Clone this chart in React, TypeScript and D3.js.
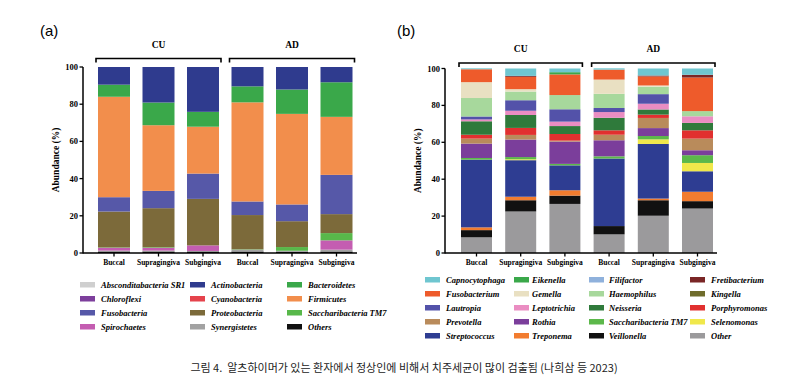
import * as d3 from 'd3';

// sample order: CU Buccal, CU Supragingiva, CU Subgingiva, AD Buccal, AD Supragingiva, AD Subgingiva
const sites = ['Buccal', 'Supragingiva', 'Subgingiva'];
const groups = ['CU', 'AD'];
const yTicks = [0, 20, 40, 60, 80, 100];

// panel (a) phyla, listed top of bar -> bottom (alphabetical)
const phylumNames = [
  'Absconditabacteria SR1', 'Actinobacteria', 'Bacteroidetes', 'Chloroflexi',
  'Cyanobacteria', 'Firmicutes', 'Fusobacteria', 'Proteobacteria',
  'Saccharibacteria TM7', 'Spirochaetes', 'Synergistetes', 'Others',
];
const phylumColors = [
  '#cfcfcf', '#2f3b8e', '#3aa84a', '#7d3f9c', '#e5434c', '#f28e4c',
  '#5658a8', '#7c6a3a', '#58b84a', '#c45db1', '#a2a2a2', '#111111',
];
const absconditabacteria = [0, 0, 0, 0, 0, 0];
const actinobacteria = [9.5, 19.1, 24.1, 10.4, 12.1, 8.2];
const bacteroidetes = [6.5, 12.2, 8, 8.6, 13.1, 18.6];
const chloroflexi = [0, 0, 0, 0, 0, 0];
const cyanobacteria = [0, 0, 0, 0, 0, 0];
const firmicutes = [54, 35.3, 25.2, 53.3, 48.7, 31.2];
const fusobacteria = [7.7, 9.3, 13.6, 7.3, 9, 21.1];
const proteobacteria = [19.3, 21, 25, 18.4, 13.9, 10.2];
const saccharibacteriaA = [0.2, 0.3, 0, 0.2, 2, 3.9];
const spirochaetes = [1.5, 1.5, 3, 0, 0, 5];
const synergistetes = [0.5, 0.5, 0.3, 1, 0.5, 1];
const othersA = [0.8, 0.8, 0.8, 0.8, 0.7, 0.8];
const phylumValues = [
  absconditabacteria, actinobacteria, bacteroidetes, chloroflexi, cyanobacteria,
  firmicutes, fusobacteria, proteobacteria, saccharibacteriaA, spirochaetes,
  synergistetes, othersA,
];

// panel (b) genera, top -> bottom
const genusNames = [
  'Capnocytophaga', 'Eikenella', 'Filifactor', 'Fretibacterium', 'Fusobacterium',
  'Gemella', 'Haemophilus', 'Kingella', 'Lautropia', 'Leptotrichia', 'Neisseria',
  'Porphyromonas', 'Prevotella', 'Rothia', 'Saccharibacteria TM7', 'Selenomonas',
  'Streptococcus', 'Treponema', 'Veillonella', 'Other',
];
const genusColors = [
  '#6fc6d0', '#3aa84a', '#8fb1dc', '#7a2626', '#ee5b2b', '#e9e0c2', '#a7d89c',
  '#6f6c2c', '#5352a9', '#ea8dc2', '#2f7a3b', '#e1302f', '#b98b5b', '#7b3e9b',
  '#5cb84a', '#f0e84b', '#2e3d92', '#f27c2f', '#111111', '#9b9a9c',
];
const capnocytophaga = [0.5, 4, 2, 0.7, 3.8, 3.4];
const eikenella = [0, 0, 1.2, 0, 0, 0];
const filifactor = [0, 0, 0, 0, 0, 0];
const fretibacterium = [0, 0.5, 0, 0, 0.5, 1.5];
const fusobacterium = [7, 6.7, 11.2, 5.4, 4.9, 18.2];
const gemella = [8.6, 1.3, 0, 7.7, 0.7, 0];
const haemophilus = [10, 4.7, 7.7, 7.7, 4, 2.8];
const kingella = [0, 0, 0, 0, 0, 0];
const lautropia = [1.6, 5.7, 6.7, 2.2, 5.2, 0];
const leptotrichia = [1, 2.3, 2.4, 3.1, 3.1, 3.6];
const neisseria = [7.3, 7, 4.3, 6.8, 2.8, 4];
const porphyromonas = [2.1, 3.8, 3.6, 2.4, 1.8, 4.5];
const prevotella = [2.7, 2.5, 0.5, 3, 5.5, 6.3];
const rothia = [7.8, 9.5, 12.1, 8.7, 4.3, 2.7];
const saccharibacteriaB = [0.9, 1.2, 0.8, 1.2, 1.8, 4.2];
const selenomonas = [0, 0.5, 0, 0, 2.5, 4.5];
const streptococcus = [36.7, 19.8, 13.5, 36.6, 29.6, 11.1];
const treponema = [1.5, 1.9, 2.9, 0, 0.9, 5.1];
const veillonella = [3.9, 6.1, 4.5, 4.5, 8.4, 4];
const otherB = [8.5, 22.5, 26.6, 10.1, 20.2, 24.1];
const genusValues = [
  capnocytophaga, eikenella, filifactor, fretibacterium, fusobacterium, gemella,
  haemophilus, kingella, lautropia, leptotrichia, neisseria, porphyromonas,
  prevotella, rothia, saccharibacteriaB, selenomonas, streptococcus, treponema,
  veillonella, otherB,
];

const serif = '"Liberation Serif", "Times New Roman", serif';
const samples = groups.flatMap(g => sites.map(s => `${g}-${s}`));

type PanelProps = {
  tag: string;
  tagX: number;
  axisX: number;
  xStart: number;
  xEnd: number;
  yTop: number;
  yBottom: number;
  barWidth: number;
  axisRight: number;
  bracketY: number;
  groupLabelY: number;
  names: string[];
  colors: string[];
  values: number[][];
};

function Panel(p: PanelProps) {
  const x = d3.scalePoint<string>().domain(samples).range([p.xStart, p.xEnd]);
  const y = d3.scaleLinear().domain([0, 100]).range([p.yBottom, p.yTop]);
  const bottomUp = [...p.names].reverse();
  const rows = samples.map((s, i) => {
    const r: { [k: string]: number | string } = { sample: s };
    p.names.forEach((n, j) => (r[n] = p.values[j][i]));
    return r;
  });
  const series = d3.stack<any>().keys(bottomUp)(rows);
  const color = d3.scaleOrdinal<string, string>().domain(p.names).range(p.colors);
  const half = p.barWidth / 2;

  return (
    <g>
      <text x={p.tagX} y={36} fontFamily='"Liberation Sans", Arial, sans-serif' fontSize={15}>
        {p.tag}
      </text>
      {series.map(s => (
        <g key={s.key} fill={color(s.key)}>
          {s.map((d, i) =>
            d[1] - d[0] > 0 ? (
              <rect
                key={i}
                x={(x(samples[i]) as number) - half}
                y={y(d[1])}
                width={p.barWidth}
                height={y(d[0]) - y(d[1])}
              />
            ) : null
          )}
        </g>
      ))}
      {/* axes */}
      <line x1={p.axisX} x2={p.axisX} y1={p.yTop} y2={p.yBottom + 0.5} stroke="#000" strokeWidth={1.5} />
      <line x1={p.axisX} x2={p.axisRight} y1={p.yBottom} y2={p.yBottom} stroke="#000" strokeWidth={1.5} />
      {yTicks.map(t => (
        <g key={t}>
          <line x1={p.axisX - 3.5} x2={p.axisX} y1={y(t)} y2={y(t)} stroke="#000" strokeWidth={1.3} />
          <text
            x={p.axisX - 5}
            y={y(t) + 3}
            textAnchor="end"
            fontFamily={serif}
            fontWeight="bold"
            fontSize={8.5}
          >
            {t}
          </text>
        </g>
      ))}
      <text
        transform={`translate(${p.axisX - 24},${(p.yTop + p.yBottom) / 2}) rotate(-90)`}
        textAnchor="middle"
        fontFamily={serif}
        fontWeight="bold"
        fontSize={9.5}
      >
        Abundance (%)
      </text>
      {samples.map(s => (
        <g key={s}>
          <line
            x1={x(s)}
            x2={x(s)}
            y1={p.yBottom}
            y2={p.yBottom + 3.5}
            stroke="#000"
            strokeWidth={1.3}
          />
          <text
            x={x(s)}
            y={p.yBottom + 12}
            textAnchor="middle"
            fontFamily={serif}
            fontWeight="bold"
            fontSize={7.5}
          >
            {s.split('-')[1]}
          </text>
        </g>
      ))}
      {groups.map(g => {
        const first = x(`${g}-${sites[0]}`) as number;
        const last = x(`${g}-${sites[2]}`) as number;
        const x1 = first - half - 2;
        const x2 = last + half + 2;
        return (
          <g key={g}>
            <path
              d={`M${x1},${p.bracketY + 4}V${p.bracketY}H${x2}V${p.bracketY + 4}`}
              fill="none"
              stroke="#000"
              strokeWidth={1.6}
            />
            <text
              x={(first + last) / 2}
              y={p.groupLabelY}
              textAnchor="middle"
              fontFamily={serif}
              fontWeight="bold"
              fontSize={9.5}
            >
              {g}
            </text>
          </g>
        );
      })}
    </g>
  );
}

function Legend(props: {
  names: string[];
  colors: string[];
  cols: number;
  swatchX: number[];
  textX: number[];
  y0: number;
}) {
  const { names, colors, cols, swatchX, textX, y0 } = props;
  return (
    <g>
      {names.map((n, i) => {
        const c = i % cols;
        const r = Math.floor(i / cols);
        const yy = y0 + r * 14;
        return (
          <g key={n}>
            <rect x={swatchX[c]} y={yy - 3} width={15} height={5.5} fill={colors[i]} />
            <text
              x={textX[c]}
              y={yy + 3}
              fontFamily={serif}
              fontWeight="bold"
              fontStyle="italic"
              fontSize={8.5}
            >
              {n}
            </text>
          </g>
        );
      })}
    </g>
  );
}

export default function App() {
  return (
    <svg
      width={790}
      height={392}
      style={{ position: 'absolute', left: 0, top: 0, background: '#fff' }}
    >
      <rect width={790} height={392} fill="#fff" />
      <Panel
        tag="(a)"
        tagX={40}
        axisX={83}
        xStart={114}
        xEnd={336.5}
        yTop={67}
        yBottom={253}
        barWidth={32}
        axisRight={357}
        bracketY={58.5}
        groupLabelY={48}
        names={phylumNames}
        colors={phylumColors}
        values={phylumValues}
      />
      <Panel
        tag="(b)"
        tagX={397}
        axisX={445}
        xStart={476.5}
        xEnd={697.5}
        yTop={68.5}
        yBottom={253}
        barWidth={31}
        axisRight={717}
        bracketY={63}
        groupLabelY={51.5}
        names={genusNames}
        colors={genusColors}
        values={genusValues}
      />
      <Legend
        names={phylumNames}
        colors={phylumColors}
        cols={3}
        swatchX={[80, 190, 287]}
        textX={[101, 211, 308]}
        y0={285}
      />
      <Legend
        names={genusNames}
        colors={genusColors}
        cols={4}
        swatchX={[425, 514, 589, 690]}
        textX={[446, 532, 609, 711]}
        y0={280}
      />
      <text
        x={404}
        y={372}
        textAnchor="middle"
        fontFamily='"Noto Sans CJK KR", "Noto Sans", sans-serif'
        fontSize={11}
        fill="#222"
      >
        {'그림 4.\u00a0 알츠하이머가 있는 환자에서 정상인에 비해서 치주세균이 많이 검출됨 (나희삼 등 2023)'}
      </text>
    </svg>
  );
}
